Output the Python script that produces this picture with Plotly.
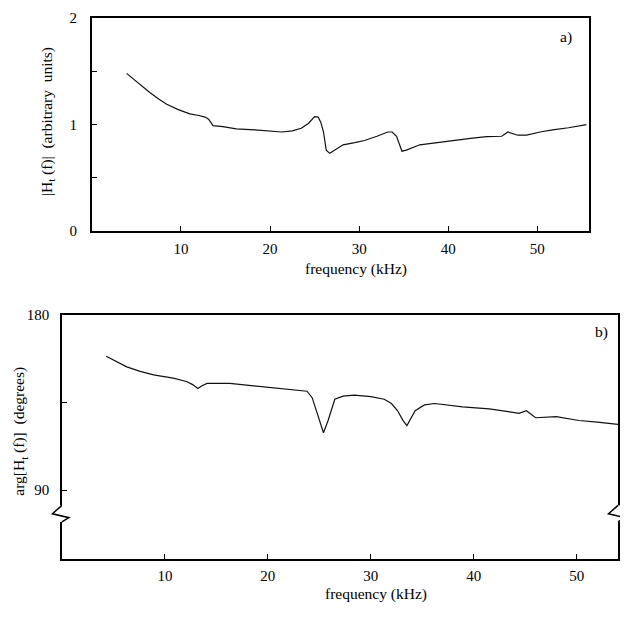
import plotly.graph_objects as go

# panel a) magnitude |H_t(f)|
freq_a = [3.9, 5.2, 6.5, 7.5, 8.4, 9.7, 11.0, 12.0, 12.7, 13.1, 13.6, 14.7, 16.2, 18.3,
          20.0, 21.3, 22.5, 23.5, 24.3, 25.0, 25.4, 25.7, 26.0, 26.3, 26.7, 27.3,
          28.2, 29.5, 30.6, 32.0, 33.2, 33.7, 34.2, 34.8, 35.3, 36.8, 38.5, 40.5,
          42.5, 44.3, 46.0, 46.7, 47.8, 48.8, 50.3, 51.7, 53.5, 55.5]
mag_a = [1.48, 1.39, 1.30, 1.24, 1.19, 1.14, 1.10, 1.085, 1.07, 1.05, 0.99, 0.98, 0.96, 0.95,
         0.94, 0.93, 0.94, 0.965, 1.01, 1.075, 1.07, 1.02, 0.93, 0.76, 0.73, 0.76,
         0.81, 0.83, 0.85, 0.89, 0.93, 0.93, 0.89, 0.75, 0.76, 0.81, 0.83, 0.85,
         0.87, 0.886, 0.89, 0.93, 0.90, 0.90, 0.93, 0.95, 0.97, 1.0]

# panel b) phase arg[H_t(f)]
freq_b = [4.3, 5.3, 6.3, 7.6, 8.9, 10.8, 12.1, 12.7, 13.2, 13.6, 14.1, 16.3, 18.3,
          21.0, 23.8, 24.3, 24.6, 25.0, 25.4, 25.85, 26.5, 27.3, 28.4, 30.0, 31.3,
          32.0, 32.6, 33.1, 33.5, 34.3, 35.2, 36.2, 38.9, 41.5, 44.4, 45.1, 46.0,
          48.0, 50.2, 52.0, 54.0]
phase_b = [158.8, 156.0, 153.3, 151.0, 149.2, 147.5, 145.8, 144.2, 142.2, 143.6, 144.8, 144.8, 143.8,
           142.2, 140.8, 137.5, 132.5, 125.0, 119.5, 125.8, 136.7, 138.3, 138.8, 138.0, 136.7,
           134.5, 130.8, 126.0, 123.2, 130.8, 133.8, 134.5, 132.8, 131.8, 129.5, 130.8, 127.2,
           127.8, 125.8, 125.0, 123.8]

FONT = "Times New Roman, Liberation Serif, serif"
W, H = 612, 604  # page body has an 8px margin


def X(p):
    return (p - 8) / W


def Y(p):
    return 1 - (p - 8) / H


fig = go.Figure()
fig.add_trace(go.Scatter(x=freq_a, y=mag_a, mode="lines", xaxis="x", yaxis="y",
                         line=dict(color="#111", width=1.2), showlegend=False))
fig.add_trace(go.Scatter(x=freq_b, y=phase_b, mode="lines", xaxis="x2", yaxis="y2",
                         line=dict(color="#111", width=1.2), showlegend=False))

ax_common = dict(showline=True, mirror=True, linecolor="black", linewidth=1.5,
                 showgrid=False, zeroline=False, ticks="inside", tickcolor="black",
                 tickfont=dict(family=FONT, size=15, color="black"))

fig.update_layout(
    width=W, height=H,
    margin=dict(l=0, r=0, t=0, b=0),
    paper_bgcolor="white", plot_bgcolor="white",
    font=dict(family=FONT, color="black"),
    xaxis=dict(domain=[X(92), X(590)], anchor="y", range=[0, 55.8],
               tickvals=[10, 20, 30, 40, 50], ticklen=5, ticklabelstandoff=3, **ax_common),
    yaxis=dict(domain=[Y(229), Y(10)], anchor="x", range=[0, 2],
               tickvals=[0, 0.5, 1, 1.5, 2], ticktext=["0", "", "1", "", "2"],
               ticklen=5, ticklabelstandoff=10, **ax_common),
    xaxis2=dict(domain=[X(62), min(1.0, X(619))], anchor="y2", range=[0, 54.0],
                tickvals=[10, 20, 30, 40, 50], ticklen=5, ticklabelstandoff=2, **ax_common),
    yaxis2=dict(domain=[Y(566), Y(315)], anchor="x2", range=[54.6, 180],
                tickvals=[90, 135, 180], ticktext=["90", "", "180"],
                ticklen=5, ticklabelstandoff=8, **ax_common),
)

txt = dict(family=FONT, size=15.5, color="black")
labels = [
    ("frequency (kHz)", 357, 268, 0),
    ("frequency (kHz)", 377, 602, 0),
    ("|H<sub>t</sub> (f)|  (arbitrary  units)", 47, 116, -90),
    ("arg[H<sub>t</sub> (f)]  (degrees)", 20, 434, -90),
    ("a)", 567, 30, 0),
    ("b)", 602, 333, 0),
]
for text, px, py, ang in labels:
    fig.add_annotation(text=text, x=X(px), y=Y(py), xref="paper", yref="paper",
                       xanchor="center", yanchor="middle", showarrow=False,
                       textangle=ang, font=txt)

# axis break marks on the phase panel
for xa in [62, 619]:
    fig.add_shape(type="line", xref="paper", yref="paper", x0=X(xa), x1=X(xa),
                  y0=Y(510.7), y1=Y(527.7), line=dict(color="white", width=4))
    px = [xa, xa - 9.5, xa + 7, xa]
    py = [510.7, 519.3, 523.3, 527.7]
    path = "M " + " L ".join(f"{X(a)},{Y(b)}" for a, b in zip(px, py))
    fig.add_shape(type="path", xref="paper", yref="paper", path=path,
                  line=dict(color="black", width=1.5))

fig.write_html("out.html")
